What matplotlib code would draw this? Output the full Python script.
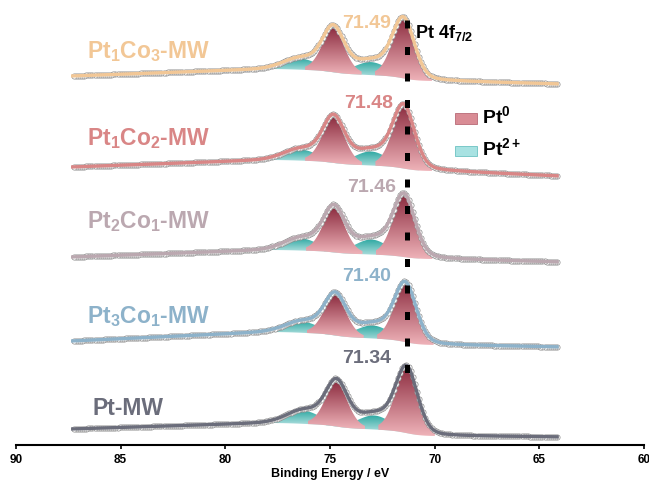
import numpy as np
import matplotlib
matplotlib.use('Agg')
import matplotlib.pyplot as plt
from matplotlib.colors import LinearSegmentedColormap
from matplotlib.patches import Rectangle

plt.rcParams['font.family'] = ['Liberation Sans', 'DejaVu Sans']
plt.rcParams['font.weight'] = 'bold'
plt.rcParams['mathtext.fontset'] = 'custom'
plt.rcParams['mathtext.rm'] = 'Liberation Sans:bold'
plt.rcParams['mathtext.it'] = 'Liberation Sans:bold'
plt.rcParams['mathtext.bf'] = 'Liberation Sans:bold'

# samples, top to bottom
names = ['Pt$_1$Co$_3$-MW', 'Pt$_1$Co$_2$-MW', 'Pt$_2$Co$_1$-MW', 'Pt$_3$Co$_1$-MW', 'Pt-MW']
colors = ['#F2C796', '#D98686', '#BBA8B0', '#8DB2CA', '#6B6D7B']
pt0_pos = [71.49, 71.48, 71.46, 71.40, 71.34]   # Pt0 4f7/2 (eV)
pt0_h72 = [5.9, 6.2, 6.1, 5.8, 6.5]
pt0_h52 = [4.4, 4.5, 4.4, 4.0, 4.4]
pt2_h72 = [1.3, 1.4, 1.5, 1.3, 1.4]
pt2_h52 = [1.1, 1.1, 1.2, 1.1, 1.3]
# background level (stacked units) at 64.15, 69.8, 77.8 and 87.3 eV
bg_e = [64.15, 69.8, 77.8, 87.3]
bg_right = [36.1, 26.9, 18.3, 9.8, 0.8]
bg_low = [36.4, 27.4, 18.6, 10.0, 0.9]
bg_high = [37.6, 28.5, 19.5, 11.3, 2.2]
bg_left = [36.9, 27.8, 18.8, 10.4, 1.6]

so_split = 3.35      # 4f5/2 - 4f7/2
pt2_shift = 1.55     # Pt2+ vs Pt0
fwhm_pt0 = 1.25
fwhm_pt2 = 1.9

# label positions (px in the figure)
label_px = [(87, 58), (87, 145), (87, 228), (87, 323), (92, 415)]
val_px = [(367, 23), (369, 103), (372, 188), (367, 277), (367, 359)]

W, H = 649, 481
fig = plt.figure(figsize=(W / 100, H / 100), dpi=100)
ax = fig.add_axes([16 / W, 35 / H, 628 / W, 446 / H])


def peak(E, c, h, w, m=0.25):
    g = np.exp(-4 * np.log(2) * ((E - c) / w) ** 2)
    l = 1 / (1 + 4 * ((E - c) / w) ** 2)
    return h * ((1 - m) * g + m * l)


def grad_fill(x, y1, y2, c_top, c_bot, z):
    poly = ax.fill_between(x, y1, y2, color='none', lw=0)
    cmap = LinearSegmentedColormap.from_list('g', [c_bot, c_top])
    grad = np.linspace(0, 1, 256).reshape(-1, 1)
    im = ax.imshow(grad, extent=[x.min(), x.max(), y1.min(), y2.max()],
                   origin='lower', aspect='auto', cmap=cmap, zorder=z)
    im.set_clip_path(poly.get_paths()[0], transform=ax.transData)


E = np.arange(64.15, 87.3, 0.02)
red = ('#8E2F42', '#EFB3B9')
teal = ('#2EA8A2', '#C8EAEA')

for i in range(5):
    c = pt0_pos[i]
    comps = [
        (peak(E, c, pt0_h72[i], fwhm_pt0), red, 3, 0.07),
        (peak(E, c + so_split, pt0_h52[i], fwhm_pt0), red, 3, 0.07),
        (peak(E, c + pt2_shift, pt2_h72[i], fwhm_pt2, 0.1), teal, 2, 0.03),
        (peak(E, c + pt2_shift + so_split, pt2_h52[i], fwhm_pt2, 0.1), teal, 2, 0.03),
    ]
    total = sum(p for p, _, _, _ in comps)
    inside = (E >= bg_e[1]) & (E <= bg_e[2])
    cum = np.cumsum(total * inside)
    S = cum / cum[-1]
    bg = np.where(E < bg_e[1], np.interp(E, bg_e[:2], [bg_right[i], bg_low[i]]),
                  np.where(E > bg_e[2], np.interp(E, bg_e[2:], [bg_high[i], bg_left[i]]),
                           bg_low[i] + (bg_high[i] - bg_low[i]) * S))
    env = bg + total

    for p, (ct, cb), z, thr in comps:
        m = p > thr * p.max()
        grad_fill(E[m], bg[m], bg[m] + p[m], ct, cb, z)

    ax.plot(E[::5], env[::5], 'o', ms=3.8, mfc='white', mec='#8a8a8a', mew=0.5, zorder=4)
    ax.plot(E, env, color=colors[i], lw=2.4, zorder=5)

    lx, ly = label_px[i]
    fig.text(lx / W, 1 - ly / H, names[i], color=colors[i], fontsize=16.5,
             fontweight='bold', va='baseline', ha='left')
    vx, vy = val_px[i]
    fig.text(vx / W, 1 - vy / H, '%.2f' % pt0_pos[i], color=colors[i], fontsize=14,
             fontweight='bold', va='center', ha='center')

ax.plot([71.34, 71.34], [42.5, 6.9], color='black', lw=3.6, dashes=(1.6, 3.7),
        dash_capstyle='butt', zorder=6)
fig.text(415 / W, 1 - 33 / H, 'Pt 4f$_{7/2}$', fontsize=13, fontweight='bold',
         va='center', ha='left')

# legend
fig.add_artist(Rectangle((455 / W, 1 - 125 / H), 22 / W, 11 / H, transform=fig.transFigure,
                         facecolor='#D98C95', edgecolor='#B86A76', lw=0.6))
fig.add_artist(Rectangle((455 / W, 1 - 157 / H), 22 / W, 10 / H, transform=fig.transFigure,
                         facecolor='#A8E2E2', edgecolor='#6CC2C2', lw=0.6))
fig.text(482 / W, 1 - 123 / H, 'Pt$^0$', fontsize=14, fontweight='bold', va='baseline')
fig.text(482 / W, 1 - 155 / H, 'Pt$^{2+}$', fontsize=14, fontweight='bold', va='baseline')

ax.set_xlim(90, 60)
ax.set_ylim(0, 44.6)
ax.set_xticks([90, 85, 80, 75, 70, 65, 60])
for s in ['left', 'right', 'top']:
    ax.spines[s].set_visible(False)
ax.spines['bottom'].set_linewidth(1.5)
ax.set_yticks([])
ax.tick_params(axis='x', direction='out', length=3, width=1.2, labelsize=8.5, pad=3)
for t in ax.get_xticklabels():
    t.set_fontweight('bold')
ax.set_xlabel('Binding Energy / eV', fontsize=9, fontweight='bold')
ax.xaxis.set_label_coords(0.5, -0.063)
ax.xaxis.label.set_va('center')

fig.savefig('out.png', dpi=100)
